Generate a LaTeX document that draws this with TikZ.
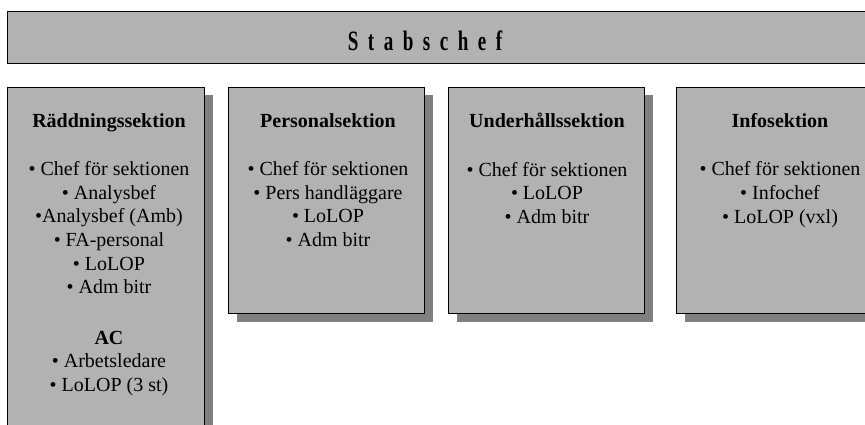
\documentclass[tikz,border=0pt]{standalone}
\usepackage{graphicx}
\usepackage{fontspec}
\setmainfont{Liberation Serif}
\usetikzlibrary{shadows}
\newcommand{\glest}{\hspace{14pt}}
\tikzset{
	sekbox/.style={draw=black, line width=1pt, fill=black!30, anchor=north west, inner sep=0pt,
		drop shadow={shadow xshift=8pt, shadow yshift=-8pt, fill=black!50, opacity=1}},
	sektext/.style={anchor=north, align=center, inner sep=0pt, font=\fontsize{20}{23.6}\selectfont}
}

\begin{document}
\begin{tikzpicture}[x=1pt,y=-1pt]
		\useasboundingbox (0,0) rectangle (865,425);
		\clip (0,0) rectangle (865,425);
		\node[draw=black, line width=1pt, fill=black!30, anchor=north west, inner sep=0pt,
			minimum width=880pt, minimum height=52pt] at (7,11)(chef){};
		\node[anchor=base, inner sep=0pt] at (425,51)(cheftext){\scalebox{0.68}[1]{\fontsize{28}{28}\selectfont\bfseries
			S\glest t\glest a\glest b\glest s\glest c\glest h\glest e\glest f}};

		\node[sekbox, minimum width=197pt, minimum height=360pt] at (7,87)(rad){};
		\node[sekbox, minimum width=196pt, minimum height=226pt] at (228,87)(pers){};
		\node[sekbox, minimum width=196pt, minimum height=226pt] at (448,87)(uh){};
		\node[sekbox, minimum width=208pt, minimum height=226pt] at (676,87)(info){};

		\node[sektext] at (109,113)(radtext){\textbf{Räddningssektion}\\[25pt]
			• Chef för sektionen\\ • Analysbef\\ •Analysbef (Amb)\\ • FA-personal\\ • LoLOP\\ • Adm bitr\\[27pt]
			\textbf{AC}\\ • Arbetsledare\\ • LoLOP (3 st)};
		\node[sektext] at (328,113)(perstext){\textbf{Personalsektion}\\[25pt]
			• Chef för sektionen\\ • Pers handläggare\\ • LoLOP\\ • Adm bitr};
		\node[sektext] at (547,113)(uhtext){\textbf{Underhållssektion}\\[25pt]
			• Chef för sektionen\\ • LoLOP\\ • Adm bitr};
		\node[sektext] at (780,113)(infotext){\textbf{Infosektion}\\[25pt]
			• Chef för sektionen\\ • Infochef\\ • LoLOP (vxl)};
\end{tikzpicture}
\end{document}
